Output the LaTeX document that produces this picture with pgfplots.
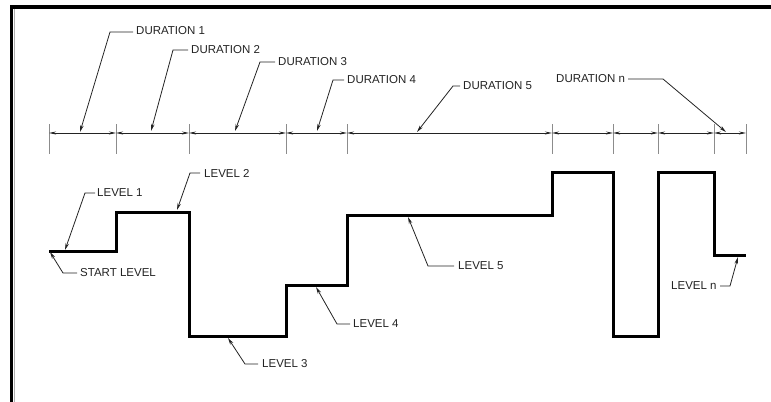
\documentclass[border=0pt]{standalone}
\usepackage{fontspec}
\setmainfont{Liberation Sans}
\usepackage{pgfplots}
\pgfplotsset{compat=1.18}
\usetikzlibrary{arrows.meta}
\definecolor{inkgray}{RGB}{35,35,35}
\definecolor{extgray}{RGB}{140,140,140}

\begin{document}
\begin{tikzpicture}[
  lbl/.style={anchor=west, text=inkgray, inner sep=0pt, font=\fontsize{11.5bp}{13bp}\selectfont},
  leader/.style={inkgray, line width=0.8bp, -{Stealth[length=7bp,width=3.5bp]}},
  dim/.style={inkgray, line width=0.8bp, {Stealth[length=7bp,width=3bp]}-{Stealth[length=7bp,width=3bp]}}]
\begin{axis}[
  width=771bp, height=402bp, scale only axis,
  xmin=0, xmax=771, ymin=0, ymax=402,
  y dir=reverse,
  axis lines=none, ticks=none,
  clip=true,
]
% frame
\addplot[black, line width=3.5bp] coordinates {(11.5,420) (11.5,7) (790,7)};
\addplot[extgray!70, line width=1bp] coordinates {(14,420) (14,9.5)};

% extension lines
\addplot[extgray, line width=0.9bp, unbounded coords=jump] table[row sep=\\] {
x y\\ 49 124\\ 49 154\\ nan nan\\ 116 124\\ 116 154\\ nan nan\\
189 124\\ 189 154\\ nan nan\\ 286 124\\ 286 154\\ nan nan\\
347 124\\ 347 154\\ nan nan\\ 552 124\\ 552 154\\ nan nan\\
613 124\\ 613 154\\ nan nan\\ 658 124\\ 658 154\\ nan nan\\
714 124\\ 714 154\\ nan nan\\ 746 124\\ 746 154\\};

% dimension line, one interval per duration
\addplot[dim] coordinates {(49,133) (116,133)};
\addplot[dim] coordinates {(116,133) (189,133)};
\addplot[dim] coordinates {(189,133) (286,133)};
\addplot[dim] coordinates {(286,133) (347,133)};
\addplot[dim] coordinates {(347,133) (552,133)};
\addplot[dim] coordinates {(552,133) (613,133)};
\addplot[dim] coordinates {(613,133) (658,133)};
\addplot[dim] coordinates {(658,133) (714,133)};
\addplot[dim] coordinates {(714,133) (746,133)};

% level profile
\addplot[black, line width=3bp, const plot mark left, line join=miter] coordinates {
  (49,251) (116,212) (189,336) (286,285) (347,215) (552,172)
  (613,336) (658,172) (714,255) (746,255)};

% duration leaders
\addplot[leader] coordinates {(133,32) (110,32) (80,132)};
\addplot[leader] coordinates {(188,50) (173,50) (151,131)};
\addplot[leader] coordinates {(275,62) (260,62) (235,131)};
\addplot[leader] coordinates {(344,80) (333,80) (317,131)};
\addplot[leader] coordinates {(460,86) (453,86) (417,132)};
\addplot[leader] coordinates {(628,79) (663,79) (726,132)};

% level leaders
\addplot[leader] coordinates {(95,193) (85,193) (65,250)};
\addplot[leader] coordinates {(200,173) (190,173) (177,210)};
\addplot[leader] coordinates {(77,273) (63,273) (50,252)};
\addplot[leader] coordinates {(258,364) (245,364) (228,338)};
\addplot[leader] coordinates {(350,324) (337,324) (316,287)};
\addplot[leader] coordinates {(454,266) (428,266) (408,217)};
\addplot[leader] coordinates {(720,286) (730,286) (738,257)};

\node[lbl] at (axis cs:136,31) {DURATION 1};
\node[lbl] at (axis cs:191,50) {DURATION 2};
\node[lbl] at (axis cs:278,62) {DURATION 3};
\node[lbl] at (axis cs:347,80) {DURATION 4};
\node[lbl] at (axis cs:463,86) {DURATION 5};
\node[lbl] at (axis cs:556,79) {DURATION n};
\node[lbl] at (axis cs:97,193) {LEVEL 1};
\node[lbl] at (axis cs:204,173) {LEVEL 2};
\node[lbl] at (axis cs:80,273) {START LEVEL};
\node[lbl] at (axis cs:262,364) {LEVEL 3};
\node[lbl] at (axis cs:353,324) {LEVEL 4};
\node[lbl] at (axis cs:458,266) {LEVEL 5};
\node[lbl] at (axis cs:671,286) {LEVEL n};
\end{axis}
\pgfresetboundingbox
\path (current axis.south west) rectangle (current axis.north east);
\end{tikzpicture}
\end{document}
